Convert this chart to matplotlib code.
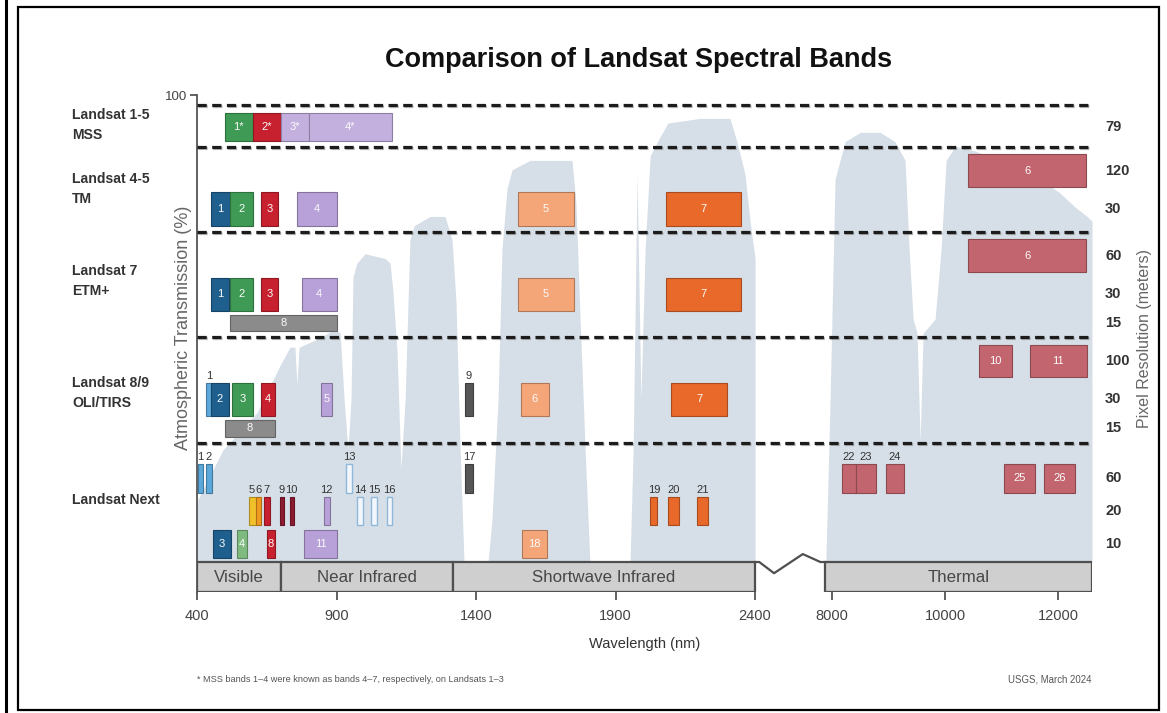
import numpy as np
import matplotlib
matplotlib.use("Agg")
import matplotlib.pyplot as plt
import matplotlib.font_manager as fm
import matplotlib.colors as mcolors
from matplotlib import patheffects as pe
from matplotlib.patches import Rectangle
from matplotlib.lines import Line2D
from matplotlib.transforms import blended_transform_factory

# ---------------------------------------------------------------- fonts
_avail = {f.name for f in fm.fontManager.ttflist}
NARROW = "Liberation Sans Narrow" if "Liberation Sans Narrow" in _avail else "Liberation Sans"
NS = 1.0 if NARROW == "Liberation Sans Narrow" else 0.84
REG = "Liberation Sans"
plt.rcParams["font.family"] = [NARROW, "DejaVu Sans"]

# ---------------------------------------------------------------- data
# atmospheric transmission (%)
vis_swir_nm = [400, 493, 615, 697, 733, 751, 758, 766, 841, 895, 913, 927, 941, 952,
               959, 973, 1002, 1074, 1092, 1102, 1117, 1131, 1146, 1163, 1178, 1235,
               1289, 1314, 1328, 1343, 1357, 1443, 1457, 1479, 1493, 1511, 1529, 1594,
               1701, 1744, 1758, 1773, 1791, 1808, 1952, 1963, 1977, 1991, 2006, 2024,
               2059, 2088, 2203, 2310, 2335, 2364, 2382, 2400]
vis_swir_T = [13, 24, 32, 42, 46, 46, 38, 46, 48, 50, 49, 35, 24, 35,
              61, 64, 66, 65, 64, 58, 45, 20, 35, 69, 72, 74,
              74, 69, 56, 24, 0, 0, 9, 35, 67, 80, 84, 86,
              86, 86, 77, 52, 24, 0, 0, 24, 83, 35, 67, 87,
              91, 94, 95, 95, 90, 83, 73, 65]
tir_nm = [7890, 7965, 8053, 8230, 8496, 8850, 9115, 9292, 9363, 9434, 9504, 9558, 9611,
          9823, 9929, 10018, 10177, 10531, 10973, 11327, 11681, 12035, 12301, 12513, 12600]
tir_T = [0, 35, 82, 90, 92, 92, 90, 86, 67, 52, 49, 26, 49,
         52, 67, 86, 89, 88, 86, 84, 82, 79, 76, 74, 73]

# spectral regions
region_names = ["Visible", "Near Infrared", "Shortwave Infrared", "Thermal"]
region_lo = [400, 700, 1318, 7880]
region_hi = [700, 1318, 2400, 12600]

# sensors: band name, lower / upper wavelength (nm), resolution (m)
mss_bands = ["1*", "2*", "3*", "4*"]
mss_lo = [500, 600, 700, 800]
mss_hi = [600, 700, 800, 1100]
mss_res = [79, 79, 79, 79]

tm_bands = ["1", "2", "3", "4", "5", "7", "6"]
tm_lo = [450, 520, 630, 760, 1550, 2080, 10400]
tm_hi = [520, 600, 690, 900, 1750, 2350, 12500]
tm_res = [30, 30, 30, 30, 30, 30, 120]

etm_bands = ["1", "2", "3", "4", "5", "7", "8", "6"]
etm_lo = [450, 520, 630, 775, 1550, 2080, 520, 10400]
etm_hi = [515, 600, 690, 900, 1750, 2350, 900, 12500]
etm_res = [30, 30, 30, 30, 30, 30, 15, 60]

oli_bands = ["1", "2", "3", "4", "5", "6", "7", "8", "9", "10", "11"]
oli_lo = [433, 450, 525, 630, 845, 1560, 2100, 500, 1360, 10600, 11500]
oli_hi = [453, 515, 600, 680, 885, 1660, 2300, 680, 1390, 11190, 12510]
oli_res = [30, 30, 30, 30, 30, 30, 30, 15, 30, 100, 100]

next_bands = [str(i) for i in range(1, 27)]
next_lo = [402, 433, 457, 542, 585, 610, 640, 650, 697, 732, 785, 855, 935, 975, 1025,
           1080, 1360, 1565, 2025, 2088, 2191, 8175, 8425, 8950, 11050, 11750]
next_hi = [422, 453, 522, 578, 610, 630, 660, 680, 712, 747, 900, 875, 955, 995, 1045,
           1100, 1390, 1655, 2050, 2128, 2231, 8425, 8775, 9275, 11600, 12300]
next_res = [60, 60, 10, 10, 20, 20, 20, 10, 20, 20, 10, 20, 60, 20, 20,
            20, 60, 10, 20, 20, 20, 60, 60, 60, 60, 60]

xtick_vals = [400, 900, 1400, 1900, 2400, 8000, 10000, 12000]

# ---------------------------------------------------------------- styles
BLUE, GREEN, RED, LAV = "#1f5f8e", "#3f9a55", "#c7202f", "#b8a1d8"
LAV2, ORL, ORD, ROSE = "#c3b0df", "#f4a679", "#e8692a", "#c2656f"
PAN, LBLUE, DGRAY, LGREEN = "#8b8b8b", "#5ba8da", "#565656", "#7fbb80"
YEL, ORA, DRED, OPEN = "#f0c12b", "#f29a20", "#8d1b30", "#f3f7fb"

mss_colors = [GREEN, RED, LAV2, LAV2]
tm_colors = [BLUE, GREEN, RED, LAV, ORL, ORD, ROSE]
etm_colors = [BLUE, GREEN, RED, LAV, ORL, ORD, PAN, ROSE]
oli_colors = [LBLUE, BLUE, GREEN, RED, LAV, ORL, ORD, PAN, DGRAY, ROSE, ROSE]
next_colors = [LBLUE, LBLUE, BLUE, LGREEN, YEL, ORA, RED, RED, DRED, DRED, LAV, LAV,
               OPEN, OPEN, OPEN, OPEN, DGRAY, ORL, ORD, ORD, ORD, ROSE, ROSE, ROSE, ROSE, ROSE]
oli_above = {"1", "9"}
next_above = {"1", "2", "5", "6", "7", "9", "10", "12", "13", "14", "15", "16", "17",
              "19", "20", "21", "22", "23", "24"}

# row layout (y centre, bar height) in transmission units
ROW = {("MSS", 79): (93.15, 6.0),
       ("TM", 120): (83.8, 7.1), ("TM", 30): (75.6, 7.2),
       ("ETM", 60): (65.6, 7.1), ("ETM", 30): (57.3, 7.1), ("ETM", 15): (51.2, 3.4),
       ("OLI", 100): (43.0, 6.9), ("OLI", 30): (34.8, 7.1), ("OLI", 15): (28.6, 3.6),
       ("NEXT", 60): (17.9, 6.1), ("NEXT", 20): (10.9, 6.1), ("NEXT", 10): (3.9, 6.1)}
SEPARATORS = [97.86, 88.87, 70.66, 48.18, 25.48]
ROW_LABELS = [("Landsat 1-5\nMSS", 125), ("Landsat 4-5\nTM", 189), ("Landsat 7\nETM+", 281),
              ("Landsat 8/9\nOLI/TIRS", 393), ("Landsat Next", 500)]

# ---------------------------------------------------------------- broken x scale
BRK_LO, BRK_HI, BRK_U, K_TIR = 2400.0, 7800.0, 235.5, 0.2025
_W = [-1e6, BRK_LO, BRK_HI, 1e7]
_U = [-1e6, BRK_LO, BRK_LO + BRK_U, BRK_LO + BRK_U + (1e7 - BRK_HI) * K_TIR]


def fwd(w):
    return np.interp(np.asarray(w, dtype=float), _W, _U)


def inv(u):
    return np.interp(np.asarray(u, dtype=float), _U, _W)


def xmid(a, b):
    return float(inv((fwd(a) + fwd(b)) / 2))


def darker(c, f=0.72):
    r, g, b = mcolors.to_rgb(c)
    return (r * f, g * f, b * f)


# ---------------------------------------------------------------- figure
W, H = 1167, 713
fig = plt.figure(figsize=(W / 100, H / 100), dpi=100)
ax = fig.add_axes([197 / W, 1 - 592 / H, (1092 - 197) / W, (592 - 95) / H])
ax.set_xscale("function", functions=(fwd, inv))
ax.set_xlim(400, 12600)
ax.set_ylim(-6.42, 100)

# transmission spectrum
SPEC = "#d6dfe7"
ax.fill_between(vis_swir_nm, 0, vis_swir_T, color=SPEC, lw=0, zorder=1)
ax.fill_between(tir_nm, 0, tir_T, color=SPEC, lw=0, zorder=1)

# row separators
for ys in SEPARATORS:
    ax.axhline(ys, color="#1c1c1c", lw=2.3, ls=(0, (2.9, 1.7)), zorder=3,
               path_effects=[pe.SimpleLineShadow(offset=(0.8, -0.8), shadow_color="#777", alpha=0.5),
                             pe.Normal()])

# bands
FS_IN = 9.5 * NS
FS_UP = 9.5 * NS


def draw(key, names, lo, hi, res, colors, above=()):
    for n, a, b, r, c in zip(names, lo, hi, res, colors):
        y, h = ROW[(key, r)]
        if c == OPEN:
            ec, lw = "#8fb8db", 1.0
        else:
            ec, lw = darker(c), 0.8
        ax.barh(y, b - a, left=a, height=h, color=c, edgecolor=ec, linewidth=lw, zorder=4)
        xm = xmid(a, b)
        if n in above:
            ax.text(xm, y + h / 2 + 0.5, n, ha="center", va="bottom", fontsize=FS_UP,
                    color="#333333", zorder=6)
        else:
            ax.text(xm, y, n, ha="center", va="center", fontsize=FS_IN,
                    color="#fbfbfb", zorder=6)


draw("MSS", mss_bands, mss_lo, mss_hi, mss_res, mss_colors)
draw("TM", tm_bands, tm_lo, tm_hi, tm_res, tm_colors)
draw("ETM", etm_bands, etm_lo, etm_hi, etm_res, etm_colors)
draw("OLI", oli_bands, oli_lo, oli_hi, oli_res, oli_colors, oli_above)
draw("NEXT", next_bands, next_lo, next_hi, next_res, next_colors, next_above)

# region boxes along the bottom
y0 = ax.get_ylim()[0]
ax.barh(y0 / 2, np.array(region_hi) - np.array(region_lo), left=region_lo, height=-y0,
        color="#cfcfcf", edgecolor="#4f4f4f", linewidth=1.6, zorder=5)
for nme, a, b in zip(region_names, region_lo, region_hi):
    ax.text(xmid(a, b), y0 / 2, nme, ha="center", va="center", fontsize=14.5 * NS,
            color="#474747", zorder=6)

# zig-zag break connector
u0, u1 = fwd(BRK_LO), fwd(region_lo[-1])
fr = np.array([0.0, 0.06, 0.27, 0.68, 0.93, 1.0])
zy = np.array([0.0, 0.0, -2.4, 1.7, 0.0, 0.0])
ax.plot(inv(u0 + fr * (u1 - u0)), zy, color="#4f4f4f", lw=1.6, zorder=5, clip_on=False)

# axes styling
for s in ["top", "right", "bottom"]:
    ax.spines[s].set_visible(False)
ax.spines["left"].set_color("#555555")
ax.spines["left"].set_linewidth(1.3)
ax.set_yticks([100])
ax.set_yticklabels(["100"])
ax.tick_params(axis="y", length=5, width=1.3, color="#555555", labelcolor="#444444",
               labelsize=11.5 * NS, pad=2)
ax.set_xticks(xtick_vals)
ax.set_xticklabels([str(v) for v in xtick_vals])
ax.xaxis.set_minor_locator(matplotlib.ticker.NullLocator())
ax.tick_params(axis="x", length=6, width=1.3, color="#555555", labelcolor="#444444",
               labelsize=12.5 * NS, pad=6)
ax.set_xlabel("Wavelength (nm)", fontsize=12.5 * NS, color="#333333", labelpad=10)

# right-hand resolution labels
tr = blended_transform_factory(ax.transAxes, ax.transData)
for (key, r), (y, h) in ROW.items():
    ax.text(1.0 + 13 / (1092 - 197), y, str(r), transform=tr, ha="left", va="center",
            fontsize=12.5 * NS, fontweight="bold", color="#333333")

# axis titles
fig.text(183 / W, 1 - 328 / H, "Atmospheric Transmission (%)", rotation=90, ha="center",
         va="center", fontsize=13, family=REG, color="#666666")
fig.text(1145 / W, 1 - 338 / H, "Pixel Resolution (meters)", rotation=90, ha="center",
         va="center", fontsize=11.5, family=REG, color="#666666")

# row labels
for txt, py in ROW_LABELS:
    fig.text(72 / W, 1 - py / H, txt, ha="left", va="center", fontsize=12 * NS,
             fontweight="bold", color="#333333", linespacing=1.5)

# title and notes
fig.text(639 / W, 1 - 60 / H, "Comparison of Landsat Spectral Bands", ha="center",
         va="center", fontsize=19.5, fontweight="bold", family=REG, color="#111111")
fig.text(197 / W, 1 - 680 / H,
         "* MSS bands 1\u20134 were known as bands 4\u20137, respectively, on Landsats 1\u20133",
         ha="left", va="center", fontsize=7.8 * NS, color="#555555")
fig.text(1092 / W, 1 - 680 / H, "USGS, March 2024", ha="right", va="center",
         fontsize=8.3 * NS, color="#555555")

# outer frame
fig.add_artist(Rectangle((18 / W, 3 / H), (1159 - 18) / W, (708 - 5) / H,
                         transform=fig.transFigure, fill=False, ec="black", lw=1.6))
fig.add_artist(Line2D([5.5 / W, 5.5 / W], [0, 1], transform=fig.transFigure,
                      color="black", lw=2.2))

fig.savefig("out.png", dpi=100)
